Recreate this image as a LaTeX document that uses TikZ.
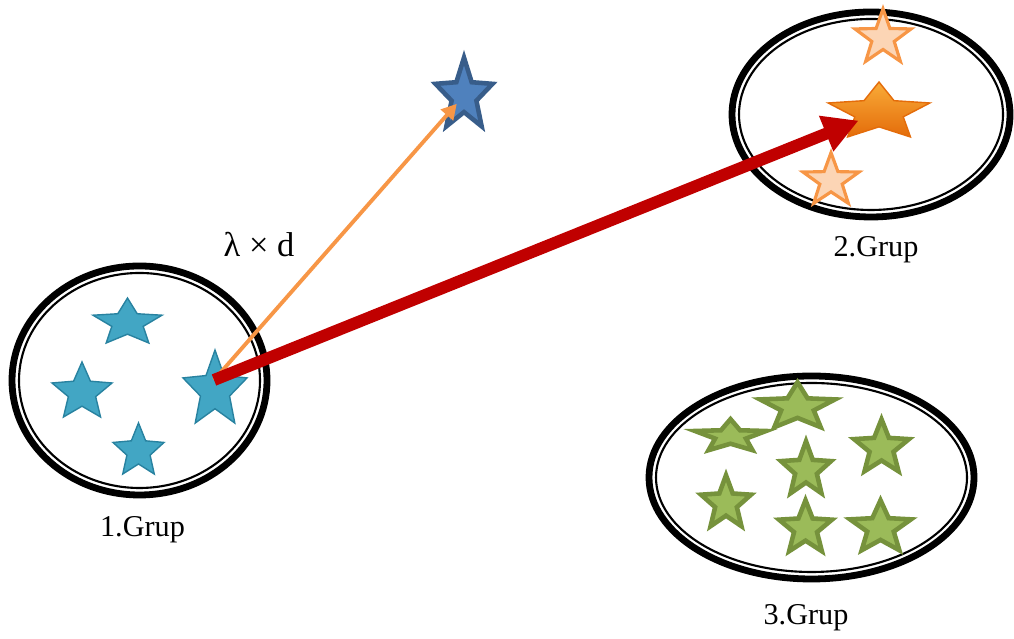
\documentclass[tikz,border=0pt]{standalone}
\usepackage{fontspec}
\setmainfont{Liberation Serif}
\usepackage{xcolor}
\definecolor{stcyan}{RGB}{66,166,196}
\definecolor{stcyandark}{RGB}{40,130,160}
\definecolor{stblue}{RGB}{79,129,189}
\definecolor{stbluedark}{RGB}{56,93,138}
\definecolor{storange}{RGB}{247,150,70}
\definecolor{storangedark}{RGB}{228,108,10}
\definecolor{stpeach}{RGB}{252,213,181}
\definecolor{stgreen}{RGB}{155,187,89}
\definecolor{stgreendark}{RGB}{118,146,60}
\definecolor{arrred}{RGB}{192,0,0}
\usepackage{tikz}
\usetikzlibrary{arrows.meta, positioning, shapes.geometric}

\begin{document}
\begin{tikzpicture}[
    grupring/.style={black, line width=0.068cm},
    grupinner/.style={black, line width=0.6pt},
    grupname/.style={font=\fontsize{8.6}{10}\selectfont, anchor=base},
    basestar/.style={star, star points=5, minimum size=1cm, inner sep=0pt, transform shape},
    cyanstar/.style={basestar, star point ratio=2.2, fill=stcyan, draw=stcyandark, line width=0.4pt},
    peachstar/.style={basestar, star point ratio=2.5, fill=stpeach, draw=storange, line width=0.9pt},
    bigstar/.style={basestar, star point ratio=2.1, top color=storange!80!yellow, bottom color=storangedark, draw=storangedark, line width=0.4pt},
    greenstar/.style={basestar, star point ratio=2.3, fill=stgreen, draw=stgreendark, line width=1.3pt},
    bluestar/.style={basestar, star point ratio=2.3, fill=stblue, draw=stbluedark, line width=1.3pt}
  ]
  \useasboundingbox (0,0) rectangle (10.14,6.39);

  % --- Group 1 (left) ---
  \draw[grupring] (1.395,2.585) ellipse [x radius=1.275, y radius=1.145];
  \draw[grupinner] (1.395,2.585) ellipse [x radius=1.205, y radius=1.075];
  \node[cyanstar, xscale=0.726, yscale=0.497] (c1) at (1.275,3.161) {};
  \node[cyanstar, xscale=0.631, yscale=0.608] (c2) at (0.82,2.466) {};
  \node[cyanstar, xscale=0.536, yscale=0.564] (c3) at (1.385,1.878) {};
  \node[cyanstar, xscale=0.673, yscale=0.807] (c4) at (2.15,2.486) {};
  \node[grupname] (g1) at (1.425,1.02) {1.Grup};

  % --- Group 2 (top right) ---
  \draw[grupring] (8.71,5.245) ellipse [x radius=1.39, y radius=1.025];
  \draw[grupinner] (8.71,5.245) ellipse [x radius=1.32, y radius=0.955];
  \node[peachstar, xscale=0.59, yscale=0.58] (p1) at (8.83,6.011) {};
  \node[bigstar, xscale=1.07, yscale=0.608] (o2) at (8.79,5.266) {};
  \node[peachstar, xscale=0.59, yscale=0.56] (p2) at (8.31,4.583) {};
  \node[grupname] (g2) at (8.76,3.82) {2.Grup};

  % --- Group 3 (bottom right) ---
  \draw[grupring] (8.115,1.615) ellipse [x radius=1.625, y radius=1.015];
  \draw[grupinner] (8.115,1.615) ellipse [x radius=1.555, y radius=0.945];
  \node[greenstar, xscale=0.747, yscale=0.343] (ga) at (7.305,2.027) {};
  \node[greenstar, xscale=0.789, yscale=0.497] (gb) at (7.975,2.319) {};
  \node[greenstar, xscale=0.578, yscale=0.575] (gc) at (8.815,1.91) {};
  \node[greenstar, xscale=0.526, yscale=0.575] (gd) at (8.06,1.69) {};
  \node[greenstar, xscale=0.526, yscale=0.564] (ge) at (7.26,1.356) {};
  \node[greenstar, xscale=0.557, yscale=0.564] (gf) at (8.055,1.106) {};
  \node[greenstar, xscale=0.641, yscale=0.553] (gg) at (8.805,1.111) {};
  \node[grupname] (g3) at (8.06,0.14) {3.Grup};

  % New position
  \node[bluestar, xscale=0.6, yscale=0.76] (nw) at (4.64,5.434) {};
  \node[font=\fontsize{9.8}{11}\selectfont, anchor=base] (lam) at (2.59,3.82) {λ × d};

  % Arrows
  \coordinate (src) at (2.14,2.59);
  \draw[storange, line width=1.1pt, -{Triangle[length=0.15cm, width=0.16cm]}, shorten >=0.11cm] (src) -- (nw.center);
  \draw[arrred, line width=0.12cm, -{Triangle[length=0.35cm, width=0.36cm]}, shorten >=0.22cm] (src) -- (o2.center);
\end{tikzpicture}
\end{document}
